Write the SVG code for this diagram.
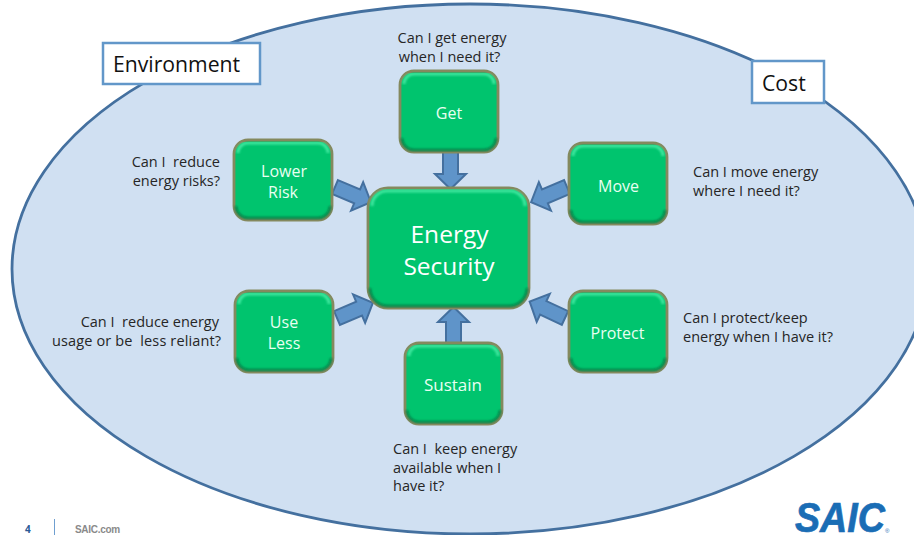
<svg xmlns="http://www.w3.org/2000/svg" width="914" height="535" viewBox="0 0 914 535">
<style>
text{font-family:"Open Sans","Liberation Sans",sans-serif;white-space:pre}
.q{font-size:14.500px;fill:#262626}
.n{font-size:16px;fill:#e8fff2;text-anchor:middle}
.b{fill:#00c46e;stroke:#84895e;stroke-width:2.800}
.h{fill:none;stroke:#3fe79f;stroke-width:3;filter:url(#soft)}
.d{fill:none;stroke:#0a8048;stroke-width:2.500;filter:url(#soft)}
.a{fill:#5f94c9;stroke:#44709f;stroke-width:2;stroke-linejoin:miter}
.box{fill:#fff;stroke:#6297c9;stroke-width:2.500}
</style>
<defs>
<filter id="soft" x="-10%" y="-10%" width="120%" height="120%"><feGaussianBlur stdDeviation="0.8"/></filter>
<polygon id="arr" points="0,-7.500 24,-7.500 24,-15.500 39,0 24,15.500 24,7.500 0,7.500"/>
</defs>
<ellipse cx="470" cy="269" rx="458" ry="265" fill="#d0e0f2" stroke="#44709f" stroke-width="2.800"/>
<g id="connectors" class="a">
<use href="#arr" class="a" transform="translate(450.500,150) rotate(90)"/>
<use href="#arr" class="a" transform="translate(453.500,346) rotate(-90)"/>
<use href="#arr" class="a" transform="translate(335,187) rotate(23)"/>
<use href="#arr" class="a" transform="translate(567,187) rotate(157)"/>
<use href="#arr" class="a" transform="translate(337,318) rotate(-23)"/>
<use href="#arr" class="a" transform="translate(565,318) rotate(-155)"/>
</g>
<g id="environment"><rect class="box" x="103" y="43" width="157" height="41"/><text x="113" y="72" font-size="21.200" fill="#111">Environment</text></g>
<g id="cost"><rect class="box" x="752" y="61" width="72" height="42"/><text x="762" y="91" font-size="21.200" fill="#111">Cost</text></g>
<g id="get"><rect class="b" x="400" y="71" width="98" height="81" rx="14"/><path class="d" d="M402 138v1a12 12 0 0 0 12 11h70a12 12 0 0 0 12-11v-1"/><path class="h" d="M404 84a10 10 0 0 1 10-10h70a10 10 0 0 1 10 10"/><text class="n" x="449" y="119">Get</text></g>
<g id="lower-risk"><rect class="b" x="234" y="140" width="98" height="80" rx="14"/><path class="d" d="M236 206v1a12 12 0 0 0 12 11h70a12 12 0 0 0 12-11v-1"/><path class="h" d="M238 153a10 10 0 0 1 10-10h70a10 10 0 0 1 10 10"/><text class="n" x="284" y="177">Lower</text><text class="n" x="283" y="198">Risk</text></g>
<g id="move"><rect class="b" x="569" y="143" width="98" height="81" rx="14"/><path class="d" d="M571 210v1a12 12 0 0 0 12 11h70a12 12 0 0 0 12-11v-1"/><path class="h" d="M573 156a10 10 0 0 1 10-10h70a10 10 0 0 1 10 10"/><text class="n" x="618.500" y="192">Move</text></g>
<g id="use-less"><rect class="b" x="235" y="291" width="98" height="81" rx="14"/><path class="d" d="M237 358v1a12 12 0 0 0 12 11h70a12 12 0 0 0 12-11v-1"/><path class="h" d="M239 304a10 10 0 0 1 10-10h70a10 10 0 0 1 10 10"/><text class="n" x="284" y="328">Use</text><text class="n" x="284" y="349">Less</text></g>
<g id="protect"><rect class="b" x="569" y="291" width="98" height="81" rx="14"/><path class="d" d="M571 358v1a12 12 0 0 0 12 11h70a12 12 0 0 0 12-11v-1"/><path class="h" d="M573 304a10 10 0 0 1 10-10h70a10 10 0 0 1 10 10"/><text class="n" x="617.500" y="339">Protect</text></g>
<g id="sustain"><rect class="b" x="405" y="343" width="97" height="81" rx="14"/><path class="d" d="M407 410v1a12 12 0 0 0 12 11h69a12 12 0 0 0 12-11v-1"/><path class="h" d="M409 356a10 10 0 0 1 10-10h69a10 10 0 0 1 10 10"/><text class="n" x="453" y="391" style="font-size:17px">Sustain</text></g>
<g id="energy-security"><rect class="b" x="368" y="188" width="161" height="120" rx="20"/><path class="d" d="M370 288v1a18 18 0 0 0 18 17h121a18 18 0 0 0 18-17v-1"/><path class="h" d="M372 206a15 15 0 0 1 15-15h123a15 15 0 0 1 15 15"/><text class="n" x="449.500" y="243" style="font-size:24.500px;fill:#fff;font-weight:500">Energy</text><text class="n" x="449" y="275" style="font-size:24.500px;fill:#fff;font-weight:500">Security</text></g>
<g id="labels">
<text class="q" x="452" y="43" text-anchor="middle">Can I get energy</text><text class="q" x="449.500" y="62" text-anchor="middle">when I need it?</text>
<text class="q" x="220" y="167" text-anchor="end">Can I  reduce</text><text class="q" x="220" y="186" text-anchor="end">energy risks?</text>
<text class="q" x="693" y="177">Can I move energy</text><text class="q" x="693" y="196">where I need it?</text>
<text class="q" x="219" y="327" text-anchor="end">Can I  reduce energy</text><text class="q" x="52" y="346" textLength="169">usage or be  less reliant?</text>
<text class="q" x="683" y="323">Can I protect/keep</text><text class="q" x="683" y="342">energy when I have it?</text>
<text class="q" x="393" y="454">Can I  keep energy</text><text class="q" x="393" y="473">available when I</text><text class="q" x="393" y="491">have it?</text>
</g>
<g id="footer">
<text x="25" y="533" font-size="10" font-weight="700" fill="#2a5a96">4</text>
<line x1="54.500" y1="519" x2="54.500" y2="535" stroke="#6f9fd0" stroke-width="1"/>
<text x="75" y="532.800" font-size="10" font-weight="700" fill="#8a8a8a" letter-spacing="-0.300" style='font-family:"Liberation Sans",sans-serif'>SAIC.com</text>
<text x="795" y="532" font-size="42" font-weight="700" font-style="italic" fill="#1a6db5" stroke="#1a6db5" stroke-width="0.700" textLength="90" lengthAdjust="spacingAndGlyphs" style='font-family:"Liberation Sans",sans-serif'>SAIC</text>
<text x="885" y="532.500" font-size="6" fill="#1a6db5" style='font-family:"Liberation Sans",sans-serif'>®</text>
</g>
</svg>
